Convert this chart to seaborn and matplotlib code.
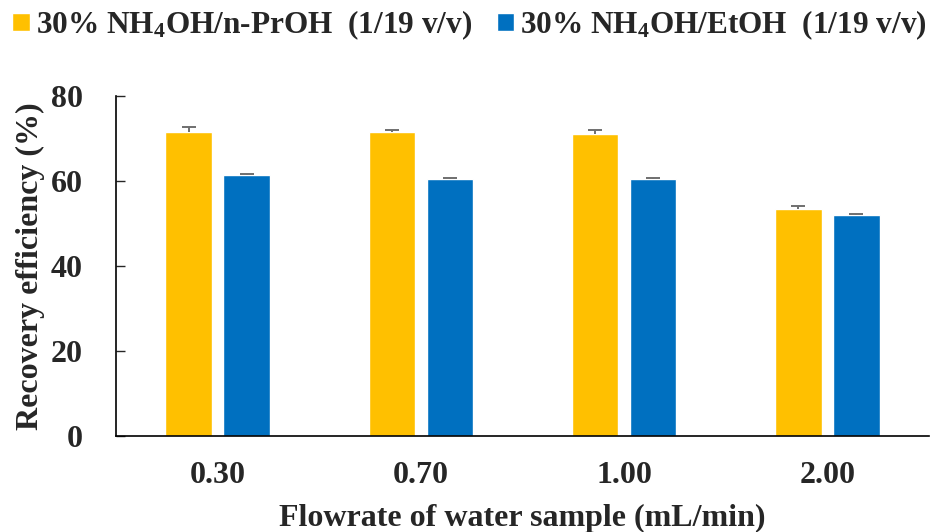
import numpy as np
import pandas as pd
import matplotlib
matplotlib.use("Agg")
import matplotlib.pyplot as plt
import seaborn as sns

# values
flowrates = ["0.30", "0.70", "1.00", "2.00"]
solvents = ["30% NH$_4$OH/n-PrOH  (1/19 v/v)", "30% NH$_4$OH/EtOH  (1/19 v/v)"]
prop_mean = [71.6, 71.6, 71.0, 53.3]
prop_err = [1.2, 0.5, 1.1, 0.8]
eth_mean = [61.4, 60.5, 60.5, 52.0]
eth_err = [0.2, 0.1, 0.2, 0.3]
colors = ["#FFC000", "#0070C0"]

df = pd.DataFrame({
    "flowrate": flowrates * 2,
    "solvent": [solvents[0]] * 4 + [solvents[1]] * 4,
    "recovery": prop_mean + eth_mean,
})
errs = [prop_err, eth_err]

sns.set_style("white")
plt.rcParams["font.family"] = ["Liberation Serif", "DejaVu Serif"]
plt.rcParams["font.weight"] = "bold"
plt.rcParams["mathtext.fontset"] = "custom"
plt.rcParams["mathtext.rm"] = "Liberation Serif:bold"
plt.rcParams["mathtext.it"] = "Liberation Serif:bold"
plt.rcParams["mathtext.bf"] = "Liberation Serif:bold"

fig = plt.figure(figsize=(9.3, 5.32), dpi=100)
ax = fig.add_axes([0.1247, 0.1805, 0.8743, 0.639])

sns.barplot(data=df, x="flowrate", y="recovery", hue="solvent",
            order=flowrates, hue_order=solvents, palette=colors,
            width=0.571, gap=0.2, errorbar=None, saturation=1,
            ax=ax)

# one-sided (plus) error bars like the original
for cont, e in zip(ax.containers, errs):
    xs = [p.get_x() + p.get_width() / 2 for p in cont]
    hs = [p.get_height() for p in cont]
    _, caps, _ = ax.errorbar(xs, hs, yerr=[np.zeros(len(e)), e], fmt="none",
                             ecolor="#6f6f6f", elinewidth=1.4, capsize=4.7,
                             capthick=1.4)
    caps[0].remove()  # no cap at the bar top

ax.set_ylim(0, 80)
ax.set_yticks([0, 20, 40, 60, 80])
ax.set_xlim(-0.5, 3.5)
sns.despine(ax=ax, top=True, right=True)
for s in ["left", "bottom"]:
    ax.spines[s].set_color("black")
    ax.spines[s].set_linewidth(1.2)
ax.tick_params(axis="y", direction="in", length=6.5, width=1, pad=24,
               labelsize=23, left=True)
ax.tick_params(axis="x", length=0, pad=18, labelsize=23)
ax.set_xlabel("Flowrate of water sample (mL/min)", fontsize=23,
              fontweight="bold", labelpad=10)
ax.set_ylabel("Recovery efficiency (%)", fontsize=23, fontweight="bold",
              labelpad=4)

sns.move_legend(ax, "center", bbox_to_anchor=(0.435, 1.209), ncol=2,
                frameon=False, title=None, fontsize=22.5,
                handlelength=0.55, handleheight=0.55, handletextpad=0.2,
                columnspacing=0.8)

fig.savefig("out.png", dpi=100, facecolor="w")
